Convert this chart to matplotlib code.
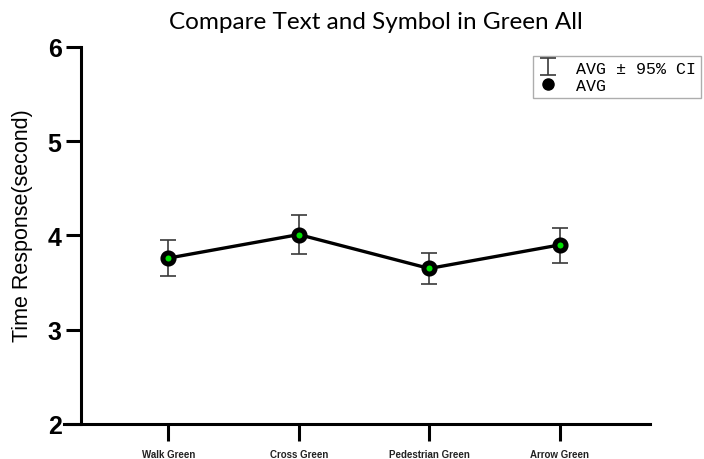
import numpy as np
import matplotlib
matplotlib.use("Agg")
import matplotlib.pyplot as plt
from matplotlib.lines import Line2D

# mean response time per stimulus, with 95% CI bounds
labels = ["Walk Green", "Cross Green", "Pedestrian Green", "Arrow Green"]
avg = [3.76, 4.01, 3.65, 3.90]
ci_low = [3.57, 3.80, 3.48, 3.71]
ci_high = [3.95, 4.22, 3.81, 4.08]
yticks = [2, 3, 4, 5, 6]

x = np.arange(len(labels))
err = [np.subtract(avg, ci_low), np.subtract(ci_high, avg)]

fig = plt.figure(figsize=(7.04, 4.6), dpi=100)
ax = fig.add_axes([0.0909, 0.0761, 0.832, 0.8196])

eb = ax.errorbar(x, avg, yerr=err, fmt="none", ecolor="#3a3a3a", elinewidth=1.2,
                 capsize=6, capthick=1.2, zorder=2)
ax.plot(x, avg, color="black", lw=2.4, marker="o", ms=8,
        mfc="#00e000", mec="black", mew=3.6, zorder=3)

# spine placement resets ticks, so do it before styling labels
ax.spines["top"].set_visible(False)
ax.spines["right"].set_visible(False)
ax.spines["left"].set_position(("data", -0.67))
ax.spines["left"].set_linewidth(2.2)
ax.spines["bottom"].set_linewidth(2.2)

ax.set_xlim(-0.8, 3.69)
ax.set_ylim(2, 6)
ax.set_yticks(yticks, [str(v) for v in yticks], fontsize=18, fontweight="bold",
              family="Liberation Sans")
ax.set_xticks(x, labels, fontsize=7, fontweight="bold", family="Liberation Sans",
              color="#222222")
ax.tick_params(axis="y", length=11, width=2.2, pad=3)
ax.tick_params(axis="x", length=12, width=2.2, pad=6)

fig.text(0.032, 0.509, "Time Response(second)", rotation=90, ha="center",
         va="center", fontsize=15.5, family="Liberation Sans")
fig.text(0.534, 0.952, "Compare Text and Symbol in Green All", ha="center",
         va="center", fontsize=17.5, family="Lato")

# legend: error bar glyph and a plain dot
dot = Line2D([], [], color="black", marker="o", ms=8, ls="none")
leg = fig.legend([eb, dot], ["AVG \u00b1 95% CI", "AVG"], loc="upper left",
                 bbox_to_anchor=(0.757, 0.877),
                 prop={"family": "Liberation Mono", "size": 12},
                 frameon=True, fancybox=False, borderpad=0.3, labelspacing=0.15,
                 handlelength=1.2, handletextpad=1.1, borderaxespad=0)
leg.get_frame().set_edgecolor("#999999")
leg.get_frame().set_linewidth(1.0)

fig.savefig("out.png", dpi=100)
